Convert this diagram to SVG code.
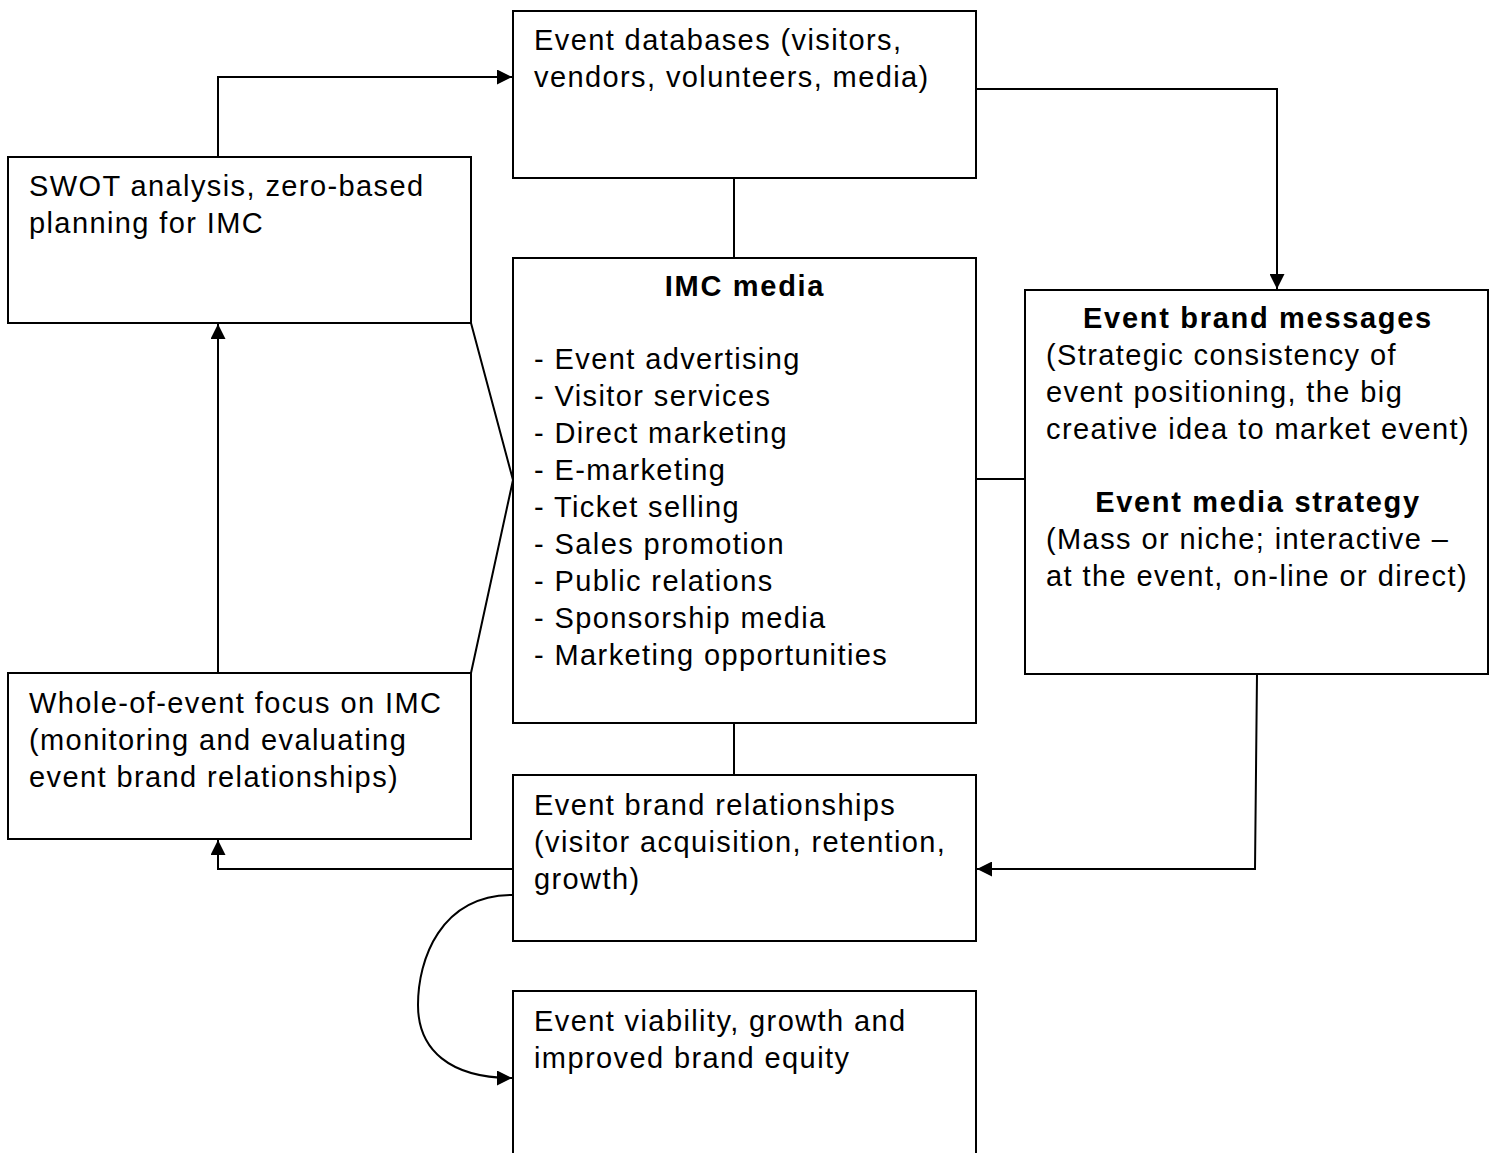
<svg xmlns="http://www.w3.org/2000/svg" width="1494" height="1153" viewBox="0 0 1494 1153">
<defs>
<style>
.box{fill:#fff;stroke:#000;stroke-width:2}
.ln{fill:none;stroke:#000;stroke-width:2}
text{font-family:"Liberation Sans",Arial,sans-serif;font-size:29px;letter-spacing:1.4px;fill:#000}
.b{font-weight:bold;text-anchor:middle;letter-spacing:1.7px}
</style>
<marker id="ah" viewBox="0 0 10 10" refX="10" refY="5" markerWidth="15" markerHeight="15" markerUnits="userSpaceOnUse" orient="auto">
<path d="M0,0 L10,5 L0,10 z" fill="#000"/>
</marker>
</defs>
<g id="connectors">
<path class="ln" d="M218,157 V77 H512" marker-end="url(#ah)"/>
<path class="ln" d="M976,89 H1277 V289" marker-end="url(#ah)"/>
<path class="ln" d="M734,178 V258"/>
<path class="ln" d="M471,323 L513,480 L471,673"/>
<path class="ln" d="M976,479 H1025"/>
<path class="ln" d="M218,673 V324" marker-end="url(#ah)"/>
<path class="ln" d="M734,723 V775"/>
<path class="ln" d="M1257,674 L1255,869 H977" marker-end="url(#ah)"/>
<path class="ln" d="M513,869 H218 V840" marker-end="url(#ah)"/>
<path class="ln" d="M513,895 C440,895 418,960 418,1005 C418,1050 450,1078 512,1078" marker-end="url(#ah)"/>
</g>
<g id="n-databases">
<rect class="box" x="513" y="11" width="463" height="167"/>
<text x="534" y="50">Event databases (visitors,</text>
<text x="534" y="87">vendors, volunteers, media)</text>
</g>
<g id="n-swot">
<rect class="box" x="8" y="157" width="463" height="166"/>
<text x="29" y="196">SWOT analysis, zero-based</text>
<text x="29" y="233">planning for IMC</text>
</g>
<g id="n-imc">
<rect class="box" x="513" y="258" width="463" height="465"/>
<text class="b" x="745" y="296">IMC media</text>
<text x="534" y="369">- Event advertising</text>
<text x="534" y="406">- Visitor services</text>
<text x="534" y="443">- Direct marketing</text>
<text x="534" y="480">- E-marketing</text>
<text x="534" y="517">- Ticket selling</text>
<text x="534" y="554">- Sales promotion</text>
<text x="534" y="591">- Public relations</text>
<text x="534" y="628">- Sponsorship media</text>
<text x="534" y="665">- Marketing opportunities</text>
</g>
<g id="n-messages">
<rect class="box" x="1025" y="290" width="463" height="384"/>
<text class="b" x="1258" y="328">Event brand messages</text>
<text x="1046" y="365">(Strategic consistency of</text>
<text x="1046" y="402">event positioning, the big</text>
<text x="1046" y="439">creative idea to market event)</text>
<text class="b" x="1258" y="512">Event media strategy</text>
<text x="1046" y="549">(Mass or niche; interactive –</text>
<text x="1046" y="586">at the event, on-line or direct)</text>
</g>
<g id="n-whole">
<rect class="box" x="8" y="673" width="463" height="166"/>
<text x="29" y="713">Whole-of-event focus on IMC</text>
<text x="29" y="750">(monitoring and evaluating</text>
<text x="29" y="787">event brand relationships)</text>
</g>
<g id="n-relationships">
<rect class="box" x="513" y="775" width="463" height="166"/>
<text x="534" y="815">Event brand relationships</text>
<text x="534" y="852">(visitor acquisition, retention,</text>
<text x="534" y="889">growth)</text>
</g>
<g id="n-viability">
<rect class="box" x="513" y="991" width="463" height="200"/>
<text x="534" y="1031">Event viability, growth and</text>
<text x="534" y="1068">improved brand equity</text>
</g>
</svg>
